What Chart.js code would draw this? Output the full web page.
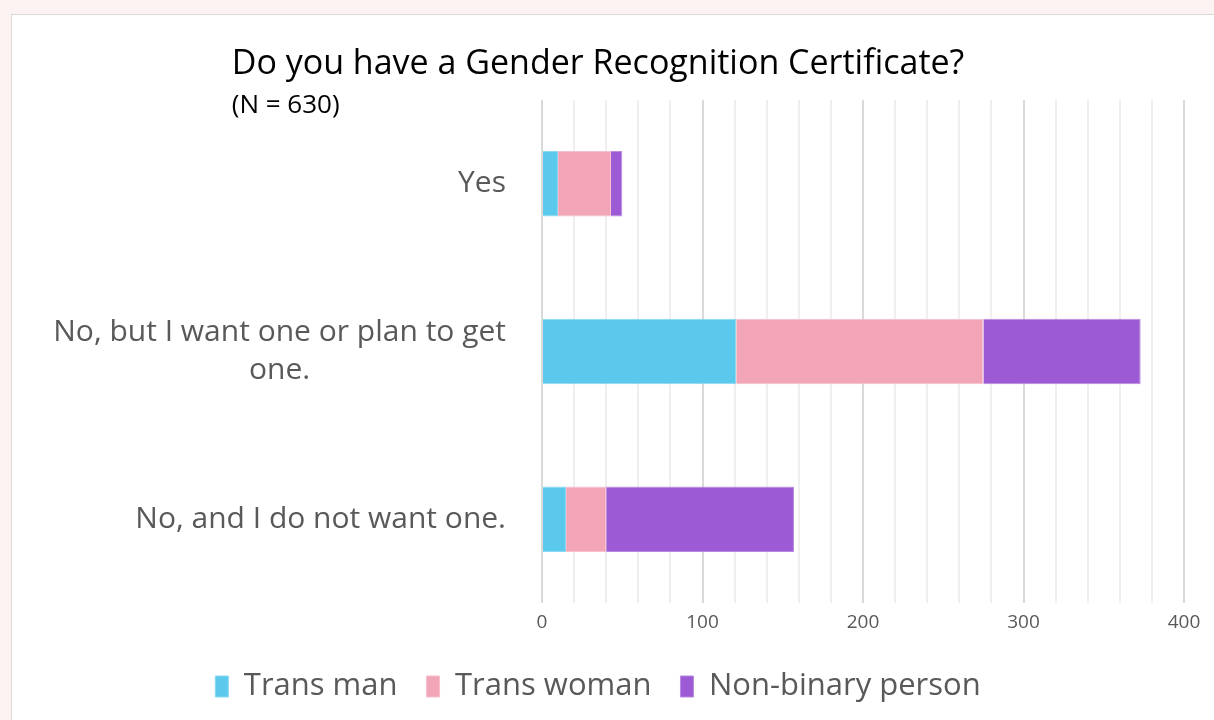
<!DOCTYPE html>
<html>
<head>
<meta charset="utf-8">
<script src="https://cdn.jsdelivr.net/npm/chart.js@4"></script>
<style>
  html, body { margin: 0; padding: 0; background: #fdf2f2; overflow: hidden; }
  #box {
    position: absolute; left: 11px; top: 14px;
    width: 1210px; height: 712px;
    background: #fff; border: 1px solid #d9d9d9;
  }
  #wrap { position: absolute; left: 0; top: 0; width: 1202px; height: 706px; }
</style>
</head>
<body>
<div id="box"><div id="wrap"><canvas id="myChart"></canvas></div></div>
<script>
const categories = [
  "Yes",
  ["No, but I want one or plan to get", "one."],
  "No, and I do not want one.",
];
const seriesNames = ["Trans man", "Trans woman", "Non-binary person"];
const transMan = [10, 121, 15];
const transWoman = [33, 154, 25];
const nonBinary = [7, 98, 117];
const xTicks = [0, 100, 200, 300, 400];

const FONT = "'Open Sans', sans-serif";
const TITLE_SIZE = 34;
const colors = ["#5bc9ec", "#f2a5b7", "#9c5bd4"];
const borders = ["#8ad8f1", "#f6c0cc", "#b78ae0"];

// subtitle under the title, left aligned with it
const subtitlePlugin = {
  id: "subtitleN",
  afterDraw(chart) {
    const ctx = chart.ctx;
    const t = chart.titleBlock;
    ctx.save();
    ctx.font = TITLE_SIZE + "px " + FONT;
    const w = ctx.measureText(chart.options.plugins.title.text).width;
    const left = t.left + t.width / 2 - w / 2;
    ctx.font = "26px " + FONT;
    ctx.fillStyle = "#000";
    ctx.textBaseline = "middle";
    ctx.textAlign = "left";
    ctx.fillText("(N = 630)", left, 91);
    ctx.restore();
  },
};

// category labels: right edge near the axis, wrapped lines centred on each other
const yLabelPlugin = {
  id: "yLabels",
  afterDraw(chart) {
    const ctx = chart.ctx;
    const y = chart.scales.y;
    ctx.save();
    ctx.font = "30px " + FONT;
    ctx.fillStyle = "#595959";
    ctx.textBaseline = "middle";
    ctx.textAlign = "center";
    const right = y.right - 36;
    categories.forEach((lab, i) => {
      const lines = Array.isArray(lab) ? lab : [lab];
      const w = Math.max(...lines.map((l) => ctx.measureText(l).width));
      const cy = y.getPixelForTick(i);
      const lh = 38;
      lines.forEach((l, j) => {
        ctx.fillText(l, right - w / 2, cy + (j - (lines.length - 1) / 2) * lh);
      });
    });
    ctx.restore();
  },
};

const ctx = document.getElementById("myChart");
new Chart(ctx, {
  type: "bar",
  data: {
    labels: categories,
    datasets: [transMan, transWoman, nonBinary].map((d, i) => ({
      label: seriesNames[i],
      data: d,
      backgroundColor: colors[i],
      borderColor: borders[i],
      borderWidth: 1,
      barPercentage: 0.65,
      categoryPercentage: 0.6,
    })),
  },
  options: {
    indexAxis: "y",
    responsive: true,
    maintainAspectRatio: false,
    animation: false,
    layout: { padding: { left: 0, right: 30, top: 0, bottom: 9 } },
    plugins: {
      title: {
        display: true,
        text: "Do you have a Gender Recognition Certificate?",
        color: "#000",
        font: { family: FONT, size: TITLE_SIZE, weight: "normal" },
        padding: { top: 29, bottom: 15 },
      },
      legend: {
        position: "bottom",
        labels: {
          color: "#595959",
          font: { family: FONT, size: 31 },
          boxWidth: 13,
          boxHeight: 21,
          padding: 29,
        },
      },
      tooltip: { enabled: false },
    },
    scales: {
      x: {
        stacked: true,
        min: 0,
        max: 400,
        ticks: {
          stepSize: 20,
          autoSkip: false,
          maxRotation: 0,
          minRotation: 0,
          color: "#595959",
          font: { family: FONT, size: 19 },
          padding: 8,
          callback: (v) => (xTicks.includes(v) ? v : ""),
        },
        grid: {
          drawTicks: false,
          color: (c) => (c.tick && c.tick.value % 100 === 0 ? "#d9d9d9" : "#efefef"),
          lineWidth: 2,
        },
        border: { display: false },
      },
      y: {
        stacked: true,
        ticks: { display: false },
        grid: { display: false },
        border: { display: false },
        afterFit: (s) => { s.width = 530; },
      },
    },
  },
  plugins: [subtitlePlugin, yLabelPlugin],
});
</script>
</body>
</html>
